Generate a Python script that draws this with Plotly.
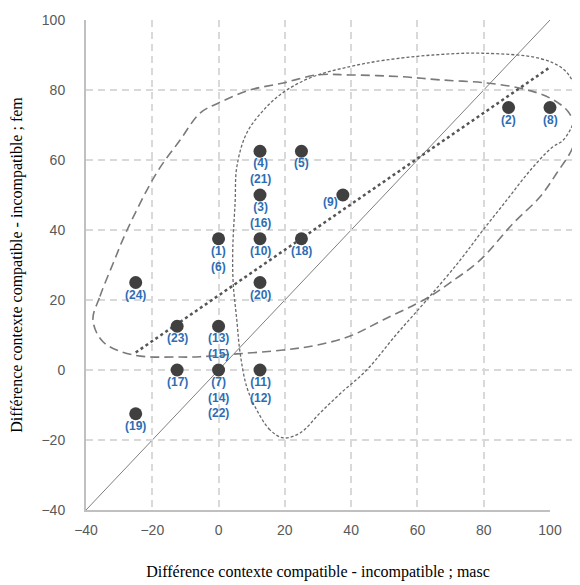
import plotly.graph_objects as go

# --- data ---
pt_x = [87.5, 100, 12.5, 25, 12.5, 37.5, 0, 12.5, 25, -25, 12.5, -12.5, 0, -12.5, 0, 12.5, -25]
pt_y = [75, 75, 62.5, 62.5, 50, 50, 37.5, 37.5, 37.5, 25, 25, 12.5, 12.5, 0, 0, 0, -12.5]
pt_labels = ["(2)", "(8)", "(4)<br>(21)", "(5)", "(3)<br>(16)", "(9)", "(1)<br>(6)", "(10)", "(18)",
             "(24)", "(20)", "(23)", "(13)<br>(15)", "(17)", "(7)<br>(14)<br>(22)", "(11)<br>(12)", "(19)"]
pt_label_side = ["below"] * 5 + ["left"] + ["below"] * 11

# identity line
diag_x = [-40, 100]
diag_y = [-40, 100]

# dotted trend line
trend_x = [-25, 100]
trend_y = [5, 86.5]

# long-dash outline (hand-drawn group boundary)
longdash_x = [-37.9, -35.8, -31.8, -27.6, -18.7, -11.6, -5.6, 0, 9.5, 19.5, 29.6, 39.7, 55, 66.8, 81, 92,
              100, 105.5, 107.3, 107, 102, 97, 88.9, 78.9, 69.8, 62.8, 49.6, 39.7, 29.6, 19.5, 5.5, -5.6,
              -11.6, -25.8, -34.8, -37.9]
longdash_y = [14.3, 21, 30.5, 40, 56.3, 65.7, 73.4, 76.3, 80, 82, 84.3, 84.3, 83.8, 82.9, 82, 80.3,
              77.7, 73.8, 69.5, 64, 56.2, 49.5, 41.9, 31.4, 24.9, 20.5, 14.3, 9.7, 7.1, 5.7, 4.6, 3.8,
              3.7, 4.3, 8, 14.3]

# short-dash outline (hand-drawn group boundary)
shortdash_x = [19.5, 15.5, 11.5, 8.5, 6.5, 5.5, 4.4, 4.3, 5, 5.5, 8.5, 14.5, 20.6, 28.5, 39.7, 50, 64.7,
               79.8, 97, 104, 107, 108, 107, 104, 100.5, 94, 87, 79.8, 72.9, 62.8, 53.5, 44.7, 37, 30.6,
               24.6, 19.5]
shortdash_y = [-19.4, -17.1, -11.4, -4.8, 4.9, 14.3, 25, 35, 48, 58, 67.7, 75.2, 80, 83.8, 86.7, 88.5, 90,
               90.5, 89, 86, 82, 75.2, 70.5, 65.7, 63.5, 57, 48.6, 40, 31.4, 20, 10, 0, -6.5, -12.3,
               -18, -19.4]

X_RANGE = [-40, 100]
Y_RANGE = [-40, 100]

# layout geometry: the main axis occupies part of the plotting width; a hidden twin
# x-axis with the same scale spans the full width so outlines may run past x = 100
FIG_W, FIG_H = 572, 577
L_MARGIN, T_MARGIN, B_MARGIN = 78, 12, 75
MAIN_W = 464
R_MARGIN = 0
full_w = FIG_W - L_MARGIN - R_MARGIN
main_frac = MAIN_W / full_w
x2_max = X_RANGE[0] + (X_RANGE[1] - X_RANGE[0]) / main_frac

fig = go.Figure()

fig.add_trace(go.Scatter(x=diag_x, y=diag_y, mode="lines", xaxis="x", yaxis="y",
                         line=dict(color="#7f7f7f", width=1), hoverinfo="skip", showlegend=False))
fig.add_trace(go.Scatter(x=longdash_x, y=longdash_y, mode="lines", xaxis="x2", yaxis="y",
                         line=dict(color="#7a7a7a", width=1.6, dash="9px,5px", shape="spline", smoothing=1.0),
                         hoverinfo="skip", showlegend=False))
fig.add_trace(go.Scatter(x=shortdash_x, y=shortdash_y, mode="lines", xaxis="x2", yaxis="y",
                         line=dict(color="#6a6a6a", width=1.3, dash="3px,2px", shape="spline", smoothing=1.0),
                         hoverinfo="skip", showlegend=False))
fig.add_trace(go.Scatter(x=trend_x, y=trend_y, mode="lines", xaxis="x2", yaxis="y",
                         line=dict(color="#555555", width=2.5, dash="dot"),
                         hoverinfo="skip", showlegend=False))
fig.add_trace(go.Scatter(x=pt_x, y=pt_y, mode="markers", xaxis="x2", yaxis="y", cliponaxis=False,
                         marker=dict(color="#404040", size=13),
                         showlegend=False))

label_font = dict(family="Liberation Sans", size=12, color="#2e6db4", weight="bold")
for x, y, t, side in zip(pt_x, pt_y, pt_labels, pt_label_side):
    if side == "left":
        fig.add_annotation(x=x, y=y, xref="x2", yref="y", text=t, showarrow=False,
                           xanchor="right", yanchor="middle", xshift=-4, yshift=-7,
                           font=label_font, borderpad=0)
    else:
        fig.add_annotation(x=x, y=y, xref="x2", yref="y", text=t, showarrow=False,
                           xanchor="center", yanchor="top", yshift=-4, align="center",
                           font=label_font, borderpad=0)

axis_common = dict(
    dtick=20, tick0=-40,
    showgrid=True, gridcolor="#d9d9d9", gridwidth=1.5, griddash="7px,5px",
    zeroline=False, showline=True, linecolor="#c0c0c0", linewidth=2,
    tickfont=dict(family="Liberation Sans", size=14, color="#595959"),
    ticks="", automargin=False,
)

fig.update_layout(
    xaxis=dict(**axis_common, range=X_RANGE, domain=[0, main_frac], anchor="y",
               title=dict(text="Différence contexte compatible - incompatible ; masc",
                          font=dict(family="Liberation Serif", size=16, color="#000000"),
                          standoff=29),
               ticklabelstandoff=6),
    yaxis=dict(**axis_common, range=Y_RANGE, anchor="x",
               title=dict(text="Différence contexte compatible - incompatible ; fem",
                          font=dict(family="Liberation Serif", size=16, color="#000000"),
                          standoff=19),
               ticklabelstandoff=16),
    xaxis2=dict(range=[X_RANGE[0], x2_max], domain=[0, 1], anchor="y", visible=False,
                showgrid=False, zeroline=False, automargin=False),
    width=FIG_W, height=FIG_H,
    margin=dict(l=L_MARGIN, r=R_MARGIN, t=T_MARGIN, b=B_MARGIN, autoexpand=False),
    plot_bgcolor="rgba(0,0,0,0)", paper_bgcolor="white",
    showlegend=False,
)

fig.write_html("out.html")
